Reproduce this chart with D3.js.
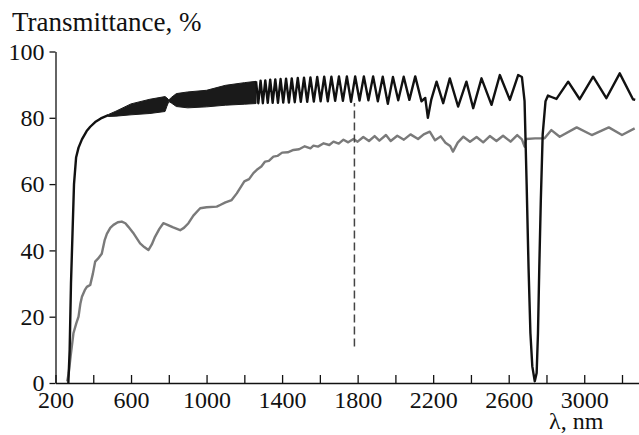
<!DOCTYPE html>
<html>
<head>
<meta charset="utf-8">
<script src="https://cdn.jsdelivr.net/npm/d3@7"></script>
<style>
  body { margin: 0; background: #fff; }
</style>
</head>
<body>
<div id="chart"></div>
<script>
// tick values and labels
var xTicks = [200, 400, 600, 800, 1000, 1200, 1400, 1600, 1800, 2000, 2200, 2400, 2600, 2800, 3000, 3200];
var xTickLabels = [200, 600, 1000, 1400, 1800, 2200, 2600, 3000];
var yTicks = [0, 20, 40, 60, 80, 100];

// dashed marker wavelength and its extent (%)
var markerNm = 1783;
var markerRange = [11, 84.5];

// black curve: rising edge before the unresolved fringe band
var blackStart = [
  [268, 0], [275, 10], [282, 30], [290, 45], [298, 60], [309, 68], [322, 71],
  [340, 73.5], [365, 76], [384, 77.3], [410, 78.7], [440, 79.8], [480, 80.8]
];

// black curve: unresolved fringes, [nm, top %, bottom %]
var blackBand = [
  [480, 81.0, 80.4], [520, 82.0, 80.5], [600, 84.2, 80.9], [700, 85.6, 81.3],
  [780, 86.4, 81.9], [790, 86.0, 83.5], [800, 85.4, 84.9], [815, 86.2, 84.4],
  [840, 87.3, 83.4], [900, 87.8, 83.0], [1000, 88.3, 83.3], [1100, 89.8, 83.8],
  [1200, 90.6, 84.1], [1262, 91.0, 84.3]
];

// black curve: resolved fringes and the absorption dip
var blackEnd = [
  [1262, 91.0], [1274, 84.4], [1286, 91.2], [1298, 84.4], [1311, 91.3], [1324, 84.5],
  [1337, 91.5], [1350, 84.5], [1364, 91.6], [1378, 84.5], [1392, 91.7], [1406, 84.6],
  [1421, 91.8], [1436, 84.6], [1451, 91.9], [1467, 84.7], [1483, 92.0], [1499, 84.8],
  [1516, 92.1], [1533, 84.8], [1550, 92.2], [1568, 84.9], [1586, 92.3], [1604, 85.0],
  [1623, 92.4], [1642, 85.0], [1661, 92.4], [1681, 85.1], [1701, 92.5], [1722, 85.1],
  [1743, 92.5], [1765, 84.8], [1787, 92.5], [1810, 85.2], [1833, 92.5], [1857, 85.3],
  [1882, 92.5], [1907, 85.0], [1933, 92.4], [1960, 84.2], [1987, 92.3], [2015, 85.3],
  [2044, 92.4], [2074, 85.4], [2105, 92.5], [2138, 85.0], [2158, 86.0], [2172, 80.0],
  [2190, 85.5], [2218, 90.9], [2253, 84.4], [2288, 91.9], [2332, 83.4], [2376, 90.9],
  [2412, 82.9], [2456, 91.9], [2509, 83.9], [2553, 92.9], [2606, 85.4], [2650, 92.9],
  [2670, 92.3], [2684, 85.0], [2695, 60], [2705, 35], [2715, 15], [2725, 5],
  [2738, 0.5], [2748, 3], [2755, 15], [2762, 35], [2770, 55], [2780, 75],
  [2795, 85], [2808, 86.7], [2830, 86.2], [2853, 85.7], [2915, 90.9], [2976, 85.6],
  [3047, 92.4], [3117, 85.9], [3188, 93.4], [3258, 85.6], [3270, 85.4]
];

// gray curve
var grayCurve = [
  [262, 0.5], [270, 3], [280, 8], [295, 15], [310, 18], [322, 20], [332, 24],
  [340, 26], [355, 28], [366, 29], [384, 29.6], [398, 33], [410, 36.6], [425, 37.5],
  [445, 39], [460, 43], [472, 45], [490, 46.8], [507, 47.7], [530, 48.5], [551, 48.7],
  [570, 48.2], [586, 47.1], [615, 45], [648, 42.1], [670, 41], [692, 40.1], [710, 41.8],
  [727, 44.1], [750, 46.5], [771, 48.2], [790, 47.8], [820, 47], [860, 46.1], [880, 46.8],
  [904, 48.2], [930, 50.5], [966, 52.7], [1000, 53], [1054, 53.2], [1072, 53.7],
  [1100, 54.5], [1133, 55.2], [1160, 57.2], [1200, 60.8], [1225, 61.5], [1248, 63.3],
  [1270, 64.5], [1290, 65.3], [1310, 66.8], [1330, 67], [1354, 68.3], [1375, 68.5],
  [1400, 69.5], [1430, 69.6], [1460, 70.3], [1490, 70.5], [1520, 71.4], [1550, 70.8],
  [1566, 71.6], [1590, 71.3], [1620, 72.3], [1650, 71.8], [1672, 72.8], [1700, 72.2],
  [1725, 73.4], [1750, 72.6], [1778, 73.6], [1800, 72.8], [1830, 74.2], [1860, 73],
  [1890, 74.5], [1915, 73.1], [1950, 74.8], [1975, 73], [2010, 74.6], [2045, 73.4],
  [2080, 75], [2120, 73.6], [2150, 75], [2182, 75.8], [2210, 73.2], [2240, 74.4],
  [2265, 72.5], [2290, 71.5], [2305, 69.8], [2330, 72.5], [2360, 74.3], [2395, 72.8],
  [2430, 74.2], [2465, 72.6], [2500, 74.5], [2535, 73], [2570, 74.6], [2610, 72.8],
  [2645, 74.8], [2670, 73.5], [2684, 71.3], [2692, 73.6], [2740, 73.8], [2790, 73.8],
  [2826, 76.3], [2870, 74.3], [2960, 77.1], [3040, 74.8], [3130, 77.1], [3200, 74.8],
  [3267, 76.8]
];

var width = 639, height = 435;
var serif = "'Liberation Serif'";

var svg = d3.select("#chart").append("svg")
    .attr("width", width)
    .attr("height", height);

//scales
var x = d3.scaleLinear().domain([200, 3290]).range([55.5, 639]);
var y = d3.scaleLinear().domain([0, 100]).range([383, 51.5]);

var line = d3.line()
    .x((d) => x(d[0]))
    .y((d) => y(d[1]));

//gray curve
svg.append("path")
    .datum(grayCurve)
    .attr("d", line)
    .attr("fill", "none")
    .attr("stroke", "#7a7a7a")
    .attr("stroke-width", 2.4)
    .attr("stroke-linejoin", "round");

//black curve
svg.append("path")
    .datum(blackBand)
    .attr("d", d3.area()
        .x((d) => x(d[0]))
        .y0((d) => y(d[2]))
        .y1((d) => y(d[1])))
    .attr("fill", "#1a1a1a")
    .attr("stroke", "#1a1a1a")
    .attr("stroke-width", 1);

svg.append("path")
    .datum(blackStart)
    .attr("d", line)
    .attr("fill", "none")
    .attr("stroke", "#111")
    .attr("stroke-width", 2.4)
    .attr("stroke-linejoin", "round");

svg.append("path")
    .datum(blackEnd)
    .attr("d", line)
    .attr("fill", "none")
    .attr("stroke", "#111")
    .attr("stroke-width", 2.4)
    .attr("stroke-linejoin", "round");

//dashed marker
svg.append("line")
    .attr("x1", x(markerNm)).attr("x2", x(markerNm))
    .attr("y1", y(markerRange[0])).attr("y2", y(markerRange[1]))
    .attr("stroke", "#444")
    .attr("stroke-width", 1.5)
    .attr("stroke-dasharray", "8,4");

//x axis
svg.append("g")
    .attr("transform", "translate(0," + y(0) + ")")
    .call(d3.axisBottom(x)
        .tickValues(xTicks)
        .tickFormat((d) => xTickLabels.indexOf(d) >= 0 ? d : "")
        .tickSizeInner(-8)
        .tickSizeOuter(0)
        .tickPadding(8));

//y axis
svg.append("g")
    .attr("transform", "translate(" + x(200) + ",0)")
    .call(d3.axisLeft(y)
        .tickValues(yTicks)
        .tickSizeInner(6)
        .tickSizeOuter(0)
        .tickPadding(5));

svg.selectAll(".tick text")
    .style("font-family", serif)
    .style("font-size", "24px")
    .attr("fill", "#111");
svg.selectAll(".domain, .tick line")
    .attr("stroke", "#111")
    .attr("stroke-width", 1.3);

//axis titles
svg.append("text")
    .attr("x", 12)
    .attr("y", 31)
    .style("font-family", serif)
    .style("font-size", "27px")
    .attr("fill", "#111")
    .text("Transmittance, %");

svg.append("text")
    .attr("x", 549)
    .attr("y", 429)
    .style("font-family", serif)
    .style("font-size", "24px")
    .attr("fill", "#111")
    .text("λ, nm");
</script>
</body>
</html>
